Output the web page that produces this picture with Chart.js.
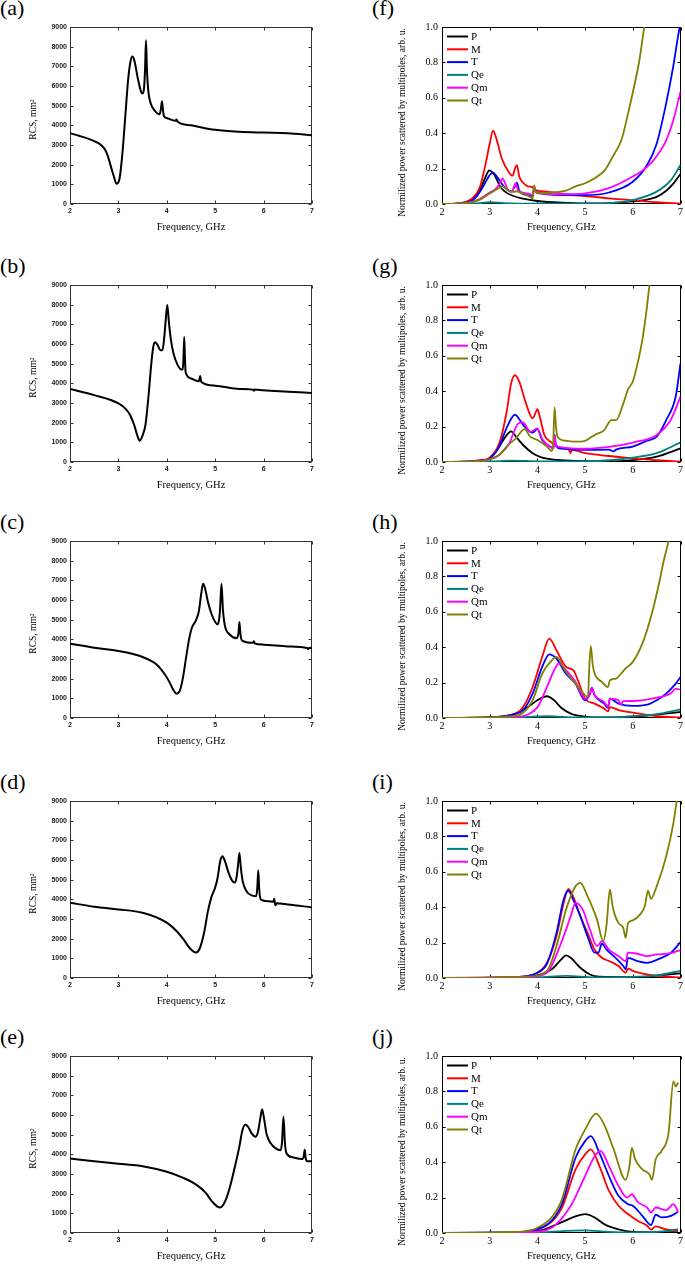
<!DOCTYPE html>
<html>
<head>
<meta charset="utf-8">
<script src="https://cdn.jsdelivr.net/npm/chart.js@4.4.0/dist/chart.umd.min.js"></script>
<style>
  body { margin: 0; background: #fff; width: 685px; height: 1264px; position: relative; overflow: hidden; }
  canvas { position: absolute; }
  .tag { position: absolute; font-family: "Liberation Serif", "Times New Roman", serif; font-size: 22px; line-height: 22px; color: #000; }
</style>
</head>
<body>
<script>
// ---- tick labels ----
const freqTicks = [2, 3, 4, 5, 6, 7];
const rcsTicks = [0, 1000, 2000, 3000, 4000, 5000, 6000, 7000, 8000, 9000];
const powTicks = [0, 0.2, 0.4, 0.6, 0.8, 1.0];

// ---- multipole series ----
const seriesNames = ["P", "M", "T", "Qe", "Qm", "Qt"];
const seriesColors = ["#000000", "#ff0000", "#0000ff", "#008080", "#ff00ff", "#808000"];

// ---- RCS curves [GHz, mm^2] ----
const rcsA = [[2,3600],[2.2,3460],[2.4,3300],[2.55,3140],[2.65,2980],[2.72,2780],[2.78,2450],[2.84,1950],[2.9,1450],[2.96,1030],[3.02,1250],[3.08,2500],[3.15,4700],[3.2,6300],[3.25,7250],[3.29,7500],[3.33,7300],[3.4,6400],[3.47,5700],[3.5,5620],[3.53,5900],[3.55,6800],[3.57,8320],[3.59,6800],[3.62,5700],[3.67,5100],[3.75,4750],[3.85,4560],[3.88,4850],[3.9,5230],[3.92,4800],[3.94,4480],[4.0,4370],[4.18,4230],[4.2,4300],[4.22,4200],[4.5,4000],[5.0,3770],[5.5,3670],[6.0,3630],[6.5,3600],[7,3500]];
const rcsB = [[2,3712],[2.5,3400],[3.0,2980],[3.15,2700],[3.25,2350],[3.33,1850],[3.39,1350],[3.44,1085],[3.5,1350],[3.56,1900],[3.62,3300],[3.68,5000],[3.72,5850],[3.76,6085],[3.81,5950],[3.87,5680],[3.91,5700],[3.95,6400],[3.98,7300],[4.01,7980],[4.04,7200],[4.08,6300],[4.14,5500],[4.22,4950],[4.3,4700],[4.33,4700],[4.345,5300],[4.36,6356],[4.375,5300],[4.39,4550],[4.5,4250],[4.66,4100],[4.69,4370],[4.71,4080],[5.0,3880],[5.5,3712],[5.78,3680],[5.8,3620],[5.82,3690],[6.0,3644],[6.5,3576],[7,3508]];
const rcsC = [[2,3780],[2.5,3576],[3.0,3407],[3.5,3100],[3.8,2700],[3.95,2250],[4.05,1850],[4.13,1450],[4.2,1237],[4.27,1400],[4.33,2000],[4.4,3100],[4.46,4000],[4.52,4600],[4.6,4950],[4.66,5400],[4.71,6300],[4.75,6830],[4.79,6600],[4.85,5900],[4.93,5250],[5.0,4880],[5.05,4760],[5.08,5000],[5.1,5500],[5.13,6830],[5.16,5500],[5.2,4700],[5.3,4250],[5.44,4050],[5.48,4300],[5.5,4880],[5.52,4300],[5.55,3950],[5.78,3820],[5.8,3900],[5.82,3790],[6.0,3730],[6.5,3640],[6.9,3560],[6.92,3500],[6.95,3570],[7,3550]];
const rcsD = [[2,3826],[2.5,3624],[3.0,3489],[3.5,3320],[3.8,3067],[4.0,2815],[4.2,2393],[4.35,1950],[4.48,1500],[4.6,1298],[4.68,1500],[4.77,2300],[4.85,3400],[4.92,4100],[5.0,4600],[5.05,5100],[5.1,5900],[5.15,6185],[5.2,5950],[5.27,5400],[5.35,4950],[5.4,4850],[5.44,5100],[5.47,5700],[5.5,6354],[5.53,5600],[5.57,4900],[5.65,4400],[5.75,4200],[5.85,4163],[5.87,4600],[5.89,5478],[5.91,4500],[5.94,4000],[6.1,3900],[6.2,3880],[6.22,4030],[6.24,3700],[6.27,3800],[6.5,3742],[7,3590]];
const rcsE = [[2,3785],[2.5,3650],[3.0,3516],[3.5,3398],[4.0,3112],[4.3,2843],[4.6,2470],[4.8,2052],[4.95,1560],[5.1,1295],[5.2,1581],[5.3,2300],[5.4,3300],[5.5,4407],[5.56,5200],[5.62,5501],[5.68,5400],[5.75,5080],[5.83,4900],[5.88,5100],[5.93,5800],[5.97,6292],[6.01,5800],[6.06,5050],[6.15,4550],[6.25,4300],[6.35,4205],[6.38,4600],[6.41,5921],[6.44,4600],[6.47,4071],[6.6,3852],[6.8,3768],[6.83,3900],[6.85,4239],[6.87,3800],[6.9,3650],[7,3650]];

// ---- normalized multipole power, panel (f) ----
const fP = [[2,0],[2.4,0.005],[2.6,0.02],[2.7,0.04],[2.8,0.08],[2.9,0.145],[2.97,0.185],[3.0,0.19],[3.05,0.18],[3.1,0.165],[3.2,0.108],[3.3,0.074],[3.5,0.045],[3.7,0.03],[4.0,0.017],[4.5,0.007],[5.0,0.003],[5.5,0.005],[6.0,0.015],[6.3,0.025],[6.5,0.04],[6.7,0.075],[6.85,0.115],[7,0.17]];
const fM = [[2,0],[2.4,0.005],[2.6,0.025],[2.7,0.05],[2.8,0.1],[2.9,0.21],[3.0,0.34],[3.07,0.415],[3.15,0.36],[3.25,0.26],[3.4,0.18],[3.48,0.16],[3.53,0.2],[3.57,0.22],[3.62,0.155],[3.7,0.12],[3.8,0.1],[3.9,0.095],[3.93,0.085],[4.0,0.075],[4.2,0.07],[4.5,0.058],[4.7,0.05],[5.0,0.045],[5.5,0.032],[6.0,0.022],[6.5,0.01],[7,0.002]];
const fT = [[2,0],[2.4,0.004],[2.6,0.015],[2.7,0.035],[2.8,0.07],[2.9,0.117],[3.0,0.164],[3.07,0.177],[3.15,0.155],[3.3,0.098],[3.45,0.07],[3.53,0.1],[3.57,0.12],[3.62,0.075],[3.8,0.05],[3.9,0.045],[3.93,0.08],[4.0,0.065],[4.5,0.05],[5.0,0.05],[5.5,0.065],[6.0,0.126],[6.3,0.22],[6.5,0.34],[6.7,0.57],[6.85,0.78],[6.95,0.95],[7,1.02]];
const fQe = [[2,0],[2.8,0.005],[3.0,0.01],[3.3,0.005],[4,0.002],[5,0.002],[5.5,0.005],[6.0,0.022],[6.5,0.07],[6.8,0.135],[7,0.22]];
const fQm = [[2,0],[2.5,0.005],[2.8,0.03],[3.0,0.065],[3.1,0.08],[3.2,0.11],[3.27,0.145],[3.32,0.12],[3.37,0.085],[3.47,0.07],[3.54,0.117],[3.6,0.075],[3.8,0.06],[3.9,0.05],[3.93,0.095],[3.97,0.065],[4.5,0.055],[5.0,0.06],[5.5,0.09],[6.0,0.155],[6.3,0.21],[6.5,0.27],[6.7,0.36],[6.85,0.475],[7,0.635]];
const fQt = [[2,0],[2.5,0.005],[2.8,0.025],[3.0,0.06],[3.1,0.075],[3.2,0.09],[3.27,0.1],[3.4,0.075],[3.5,0.068],[3.55,0.072],[3.7,0.06],[3.85,0.04],[3.9,0.03],[3.93,0.105],[3.97,0.07],[4.0,0.06],[4.3,0.065],[4.6,0.075],[4.8,0.1],[5.0,0.117],[5.2,0.145],[5.41,0.19],[5.62,0.287],[5.76,0.36],[5.9,0.51],[6.0,0.63],[6.14,0.815],[6.24,1.0],[6.3,1.1]];

// ---- panel (g) ----
const gP = [[2,0],[2.6,0.003],[2.8,0.008],[3.0,0.02],[3.2,0.087],[3.35,0.15],[3.45,0.173],[3.55,0.143],[3.7,0.096],[3.9,0.05],[4.1,0.025],[4.3,0.015],[4.5,0.01],[5.0,0.005],[5.5,0.003],[6.0,0.01],[6.5,0.03],[7,0.077]];
const gM = [[2,0],[2.6,0.004],[2.8,0.01],[3.0,0.025],[3.2,0.105],[3.35,0.275],[3.45,0.445],[3.53,0.49],[3.62,0.454],[3.75,0.34],[3.9,0.247],[3.97,0.284],[4.0,0.298],[4.05,0.256],[4.15,0.15],[4.3,0.11],[4.34,0.1],[4.36,0.125],[4.38,0.098],[4.5,0.08],[4.66,0.07],[4.69,0.05],[4.72,0.068],[5.0,0.05],[5.5,0.034],[6.0,0.02],[6.5,0.01],[7,0.002]];
const gT = [[2,0],[2.6,0.003],[2.8,0.008],[3.0,0.02],[3.2,0.087],[3.35,0.19],[3.53,0.267],[3.7,0.21],[3.9,0.166],[4.0,0.186],[4.1,0.124],[4.3,0.083],[4.34,0.08],[4.36,0.155],[4.39,0.09],[4.5,0.075],[5.0,0.068],[5.5,0.07],[5.6,0.06],[5.65,0.07],[6.0,0.087],[6.3,0.12],[6.5,0.143],[6.7,0.237],[6.9,0.37],[7,0.557]];
const gQe = [[2,0],[3.0,0.003],[3.5,0.008],[4.0,0.004],[5.0,0.003],[5.5,0.01],[6.0,0.025],[6.5,0.05],[7,0.111]];
const gQm = [[2,0],[2.8,0.005],[3.0,0.015],[3.2,0.04],[3.4,0.1],[3.6,0.218],[3.7,0.224],[3.85,0.17],[4.0,0.19],[4.1,0.13],[4.3,0.08],[4.34,0.078],[4.36,0.155],[4.39,0.09],[5.0,0.075],[5.5,0.085],[6.0,0.11],[6.5,0.153],[6.8,0.24],[7,0.37]];
const gQt = [[2,0],[2.8,0.005],[3.0,0.015],[3.2,0.04],[3.4,0.1],[3.55,0.133],[3.73,0.186],[3.85,0.143],[4.0,0.124],[4.2,0.087],[4.3,0.062],[4.33,0.1],[4.36,0.309],[4.39,0.2],[4.42,0.143],[4.6,0.12],[4.8,0.115],[5.0,0.12],[5.2,0.153],[5.4,0.18],[5.55,0.237],[5.65,0.237],[5.8,0.33],[5.9,0.41],[6.0,0.454],[6.1,0.557],[6.2,0.69],[6.28,0.84],[6.35,1.0],[6.4,1.1]];

// ---- panel (h) ----
const hP = [[2,0],[3.0,0.003],[3.5,0.02],[3.8,0.062],[4.0,0.1],[4.2,0.123],[4.35,0.1],[4.5,0.058],[4.7,0.025],[5.0,0.008],[5.5,0.003],[6.0,0.007],[6.5,0.019],[7,0.034]];
const hM = [[2,0],[3.0,0.003],[3.5,0.02],[3.7,0.062],[3.9,0.175],[4.1,0.345],[4.25,0.449],[4.4,0.383],[4.6,0.289],[4.75,0.27],[4.85,0.213],[5.0,0.109],[5.2,0.081],[5.4,0.053],[5.48,0.038],[5.52,0.062],[5.7,0.045],[6.0,0.03],[6.5,0.01],[7,0.003]];
const hT = [[2,0],[3.0,0.003],[3.5,0.02],[3.7,0.045],[3.9,0.138],[4.1,0.289],[4.25,0.36],[4.4,0.336],[4.6,0.25],[4.8,0.194],[5.0,0.1],[5.1,0.138],[5.14,0.172],[5.2,0.128],[5.4,0.081],[5.48,0.058],[5.52,0.109],[5.7,0.081],[6.0,0.068],[6.3,0.075],[6.5,0.1],[6.7,0.138],[6.9,0.194],[7,0.232]];
const hQe = [[2,0],[3.5,0.003],[4.2,0.01],[4.6,0.005],[5.5,0.003],[6.0,0.01],[6.5,0.022],[7,0.049]];
const hQm = [[2,0],[3.5,0.005],[3.8,0.02],[4.0,0.06],[4.2,0.175],[4.35,0.27],[4.45,0.308],[4.6,0.27],[4.8,0.204],[5.0,0.109],[5.1,0.13],[5.14,0.17],[5.2,0.13],[5.4,0.09],[5.48,0.065],[5.52,0.11],[5.7,0.1],[5.75,0.075],[5.8,0.095],[6.0,0.096],[6.5,0.115],[6.8,0.14],[6.9,0.166],[7,0.16]];
const hQt = [[2,0],[3.5,0.01],[3.7,0.03],[3.9,0.1],[4.1,0.25],[4.3,0.326],[4.4,0.345],[4.6,0.26],[4.8,0.194],[5.0,0.128],[5.06,0.12],[5.09,0.3],[5.12,0.406],[5.16,0.3],[5.2,0.25],[5.35,0.204],[5.48,0.175],[5.52,0.213],[5.65,0.223],[5.75,0.25],[5.85,0.28],[6.0,0.317],[6.2,0.42],[6.4,0.59],[6.55,0.76],[6.65,0.89],[6.75,1.0],[6.8,1.07]];

// ---- panel (i) ----
const iP = [[2,0],[3.5,0.003],[4.0,0.015],[4.3,0.049],[4.5,0.105],[4.6,0.128],[4.7,0.114],[4.9,0.058],[5.1,0.02],[5.3,0.007],[6.0,0.005],[6.5,0.013],[7,0.026]];
const iM = [[2,0],[3.5,0.005],[4.0,0.03],[4.2,0.086],[4.4,0.236],[4.55,0.424],[4.65,0.503],[4.75,0.46],[4.9,0.35],[5.05,0.255],[5.2,0.16],[5.35,0.114],[5.5,0.096],[5.7,0.068],[5.85,0.03],[5.9,0.053],[6.0,0.04],[6.3,0.02],[6.6,0.01],[7,0.003]];
const iT = [[2,0],[3.5,0.005],[4.0,0.03],[4.2,0.08],[4.4,0.255],[4.55,0.443],[4.65,0.493],[4.75,0.443],[4.9,0.35],[5.05,0.236],[5.2,0.143],[5.28,0.143],[5.35,0.195],[5.45,0.16],[5.6,0.124],[5.8,0.068],[5.85,0.049],[5.9,0.114],[6.1,0.096],[6.3,0.086],[6.6,0.114],[6.8,0.143],[7,0.203]];
const iQe = [[2,0],[4.0,0.004],[4.6,0.012],[5.2,0.004],[6.0,0.006],[6.5,0.015],[7,0.04]];
const iQm = [[2,0],[3.8,0.005],[4.2,0.03],[4.5,0.2],[4.7,0.35],[4.8,0.424],[4.95,0.386],[5.1,0.274],[5.25,0.18],[5.35,0.208],[5.5,0.16],[5.7,0.124],[5.85,0.096],[5.9,0.143],[6.1,0.137],[6.3,0.124],[6.5,0.133],[6.8,0.14],[7,0.158]];
const iQt = [[2,0],[3.8,0.008],[4.2,0.04],[4.4,0.18],[4.6,0.386],[4.8,0.518],[4.9,0.537],[5.05,0.462],[5.25,0.33],[5.38,0.208],[5.45,0.3],[5.52,0.5],[5.58,0.4],[5.7,0.31],[5.8,0.283],[5.85,0.227],[5.9,0.31],[6.0,0.326],[6.15,0.358],[6.25,0.405],[6.32,0.493],[6.38,0.447],[6.5,0.518],[6.7,0.687],[6.85,0.874],[6.92,1.0],[6.96,1.08]];

// ---- panel (j) ----
const jP = [[2,0],[3.5,0.002],[4.0,0.01],[4.5,0.06],[4.8,0.094],[5.0,0.107],[5.2,0.088],[5.4,0.05],[5.7,0.02],[6.0,0.006],[6.5,0.004],[6.95,0.005]];
const jM = [[2,0],[3.5,0.004],[4.0,0.02],[4.5,0.135],[4.8,0.36],[5.0,0.444],[5.12,0.472],[5.3,0.378],[5.5,0.238],[5.7,0.154],[5.9,0.107],[6.1,0.069],[6.3,0.041],[6.38,0.019],[6.48,0.037],[6.7,0.02],[6.95,0.01]];
const jT = [[2,0],[3.5,0.004],[4.0,0.02],[4.5,0.154],[4.8,0.425],[5.0,0.519],[5.12,0.547],[5.3,0.453],[5.5,0.322],[5.7,0.21],[5.9,0.163],[6.0,0.154],[6.2,0.097],[6.38,0.045],[6.48,0.103],[6.6,0.088],[6.8,0.097],[6.95,0.12]];
const jQe = [[2,0],[4.0,0.004],[5.0,0.015],[5.5,0.006],[6.0,0.003],[6.5,0.006],[6.95,0.02]];
const jQm = [[2,0],[3.8,0.004],[4.3,0.03],[4.7,0.154],[5.0,0.322],[5.2,0.434],[5.33,0.462],[5.5,0.378],[5.7,0.266],[5.88,0.2],[5.98,0.219],[6.1,0.176],[6.3,0.144],[6.38,0.116],[6.48,0.144],[6.7,0.129],[6.85,0.163],[6.95,0.12]];
const jQt = [[2,0],[3.5,0.006],[4.0,0.03],[4.5,0.18],[4.8,0.472],[5.0,0.584],[5.23,0.674],[5.4,0.612],[5.6,0.472],[5.85,0.3],[5.93,0.378],[5.98,0.481],[6.05,0.416],[6.2,0.36],[6.35,0.331],[6.4,0.3],[6.48,0.416],[6.6,0.463],[6.75,0.566],[6.85,0.856],[6.9,0.828],[6.95,0.85]];

const rowTops = [27, 285, 541, 801, 1056];
const leftPanels = [["(a)", rcsA], ["(b)", rcsB], ["(c)", rcsC], ["(d)", rcsD], ["(e)", rcsE]];
const rightPanels = [
  ["(f)", [fP, fM, fT, fQe, fQm, fQt]],
  ["(g)", [gP, gM, gT, gQe, gQm, gQt]],
  ["(h)", [hP, hM, hT, hQe, hQm, hQt]],
  ["(i)", [iP, iM, iT, iQe, iQm, iQt]],
  ["(j)", [jP, jM, jT, jQe, jQm, jQt]]
];

Chart.defaults.font.family = '"Liberation Serif", "Times New Roman", serif';
Chart.defaults.color = "#000";

const PLOT_H = 177;

function pts(a) { return a.map(p => ({ x: p[0], y: p[1] })); }

// box + inward tick marks on all four sides
const framePlugin = {
  id: "frame",
  beforeDatasetsDraw(chart, args, o) {
    const { ctx, chartArea: a, scales } = chart;
    const L = Math.round(a.left) + 0.5, R = Math.round(a.right) - 0.5;
    const T = Math.round(a.top) + 0.5, B = Math.round(a.bottom) - 0.5;
    ctx.save();
    ctx.strokeStyle = o.color;
    ctx.lineWidth = 1;
    ctx.strokeRect(L, T, R - L, B - T);
    ctx.beginPath();
    scales.x.ticks.forEach(t => {
      const px = Math.round(scales.x.getPixelForValue(t.value)) + 0.5;
      ctx.moveTo(px, B); ctx.lineTo(px, B - o.len);
      ctx.moveTo(px, T); ctx.lineTo(px, T + o.len);
    });
    scales.y.ticks.forEach(t => {
      const py = Math.round(scales.y.getPixelForValue(t.value)) + 0.5;
      ctx.moveTo(L, py); ctx.lineTo(L + o.len, py);
      ctx.moveTo(R, py); ctx.lineTo(R - o.len, py);
    });
    ctx.stroke();
    ctx.restore();
  }
};

// rotated y title, not squeezed to the axis height
const yTitlePlugin = {
  id: "ytitle",
  afterDraw(chart, args, o) {
    const { ctx, chartArea: a } = chart;
    ctx.save();
    ctx.font = o.font;
    ctx.fillStyle = "#000";
    ctx.textAlign = "center";
    ctx.textBaseline = "middle";
    ctx.translate(o.x, (a.top + a.bottom) / 2 + o.dy);
    ctx.rotate(-Math.PI / 2);
    ctx.fillText(o.text, 0, 0);
    ctx.restore();
  }
};

// legend drawn inside the plot, top left
const keyPlugin = {
  id: "key",
  afterDatasetsDraw(chart, args, o) {
    if (!o.show) return;
    const { ctx, chartArea: a } = chart;
    ctx.save();
    ctx.font = o.font;
    ctx.textBaseline = "middle";
    ctx.fillStyle = "#000";
    chart.data.datasets.forEach((ds, i) => {
      const y = a.top + o.top + i * o.gap;
      ctx.strokeStyle = ds.borderColor;
      ctx.lineWidth = 2;
      ctx.beginPath();
      ctx.moveTo(a.left + 5, y);
      ctx.lineTo(a.left + 26, y);
      ctx.stroke();
      ctx.fillText(ds.label, a.left + 29, y + 0.5);
    });
    ctx.restore();
  }
};

function makeCanvas(left, top, w, h) {
  const c = document.createElement("canvas");
  c.width = w; c.height = h;
  c.style.left = left + "px"; c.style.top = top + "px";
  c.style.width = w + "px"; c.style.height = h + "px";
  document.body.appendChild(c);
  return c.getContext("2d");
}

function addTag(text, left, top) {
  const d = document.createElement("div");
  d.className = "tag";
  d.textContent = text;
  d.style.left = left + "px";
  d.style.top = top + "px";
  document.body.appendChild(d);
}

function buildScales(isRcs) {
  const tickFont = isRcs
    ? { family: '"Liberation Sans", Arial, sans-serif', size: 7, weight: "bold" }
    : { size: 10 };
  return {
    x: {
      type: "linear", min: 2, max: 7,
      afterBuildTicks: s => { s.ticks = freqTicks.map(v => ({ value: v })); },
      afterFit: s => { s.height = 36; },
      grid: { display: false, drawTicks: false }, border: { display: false },
      ticks: { font: tickFont, padding: isRcs ? 3 : 2, maxRotation: 0, autoSkip: false, color: isRcs ? "#222" : "#000" },
      title: { display: true, text: "Frequency, GHz", font: { size: 10.5 }, padding: { top: 0, bottom: 6 } }
    },
    y: {
      type: "linear", min: 0, max: isRcs ? 9000 : 1.0,
      afterBuildTicks: s => { s.ticks = (isRcs ? rcsTicks : powTicks).map(v => ({ value: v })); },
      afterFit: s => { s.width = isRcs ? 70 : 52; },
      grid: { display: false, drawTicks: false }, border: { display: false },
      ticks: {
        font: tickFont, padding: isRcs ? 3 : 4, autoSkip: false, color: isRcs ? "#222" : "#000",
        callback: v => isRcs ? String(v) : v.toFixed(1)
      }
    }
  };
}

// left column: RCS
leftPanels.forEach((p, r) => {
  const top = rowTops[r];
  addTag(p[0], 0, top - 30);
  const ctx = makeCanvas(0, top - 10, 322, 10 + PLOT_H + 36);
  new Chart(ctx, {
    type: "line",
    data: {
      datasets: [{
        label: "RCS", data: pts(p[1]),
        borderColor: "#000", borderWidth: 2, pointRadius: 0,
        cubicInterpolationMode: "monotone", fill: false
      }]
    },
    options: {
      responsive: false, animation: false, events: [],
      layout: { padding: { top: 10, right: 10, left: 0, bottom: 0 } },
      scales: buildScales(true),
      plugins: {
        legend: { display: false }, tooltip: { enabled: false },
        frame: { color: "#333", len: 3 },
        ytitle: { text: "RCS, mm\u00B2", x: 33, dy: 4, font: '9.5px "Liberation Serif", serif' },
        key: { show: false }
      }
    },
    plugins: [framePlugin, yTitlePlugin, keyPlugin]
  });
});

// right column: multipole decomposition
rightPanels.forEach((p, r) => {
  const top = rowTops[r];
  addTag(p[0], 372, top - 30);
  const ctx = makeCanvas(390, top - 10, 295, 10 + PLOT_H + 36);
  new Chart(ctx, {
    type: "line",
    data: {
      datasets: p[1].map((s, i) => ({
        label: seriesNames[i], data: pts(s),
        borderColor: seriesColors[i], borderWidth: 1.8, pointRadius: 0,
        cubicInterpolationMode: "monotone", fill: false,
        order: seriesNames.length - i
      }))
    },
    options: {
      responsive: false, animation: false, events: [],
      layout: { padding: { top: 10, right: 2, left: 0, bottom: 0 } },
      scales: buildScales(false),
      plugins: {
        legend: { display: false }, tooltip: { enabled: false },
        frame: { color: "#000", len: 3 },
        ytitle: { text: "Normilized power scattered by multipoles, arb. u.", x: 12, dy: 7, font: '9.5px "Liberation Serif", serif' },
        key: { show: true, top: 9.5, gap: 12.8, font: '11px "Liberation Serif", serif' }
      }
    },
    plugins: [framePlugin, yTitlePlugin, keyPlugin]
  });
});
</script>
</body>
</html>
